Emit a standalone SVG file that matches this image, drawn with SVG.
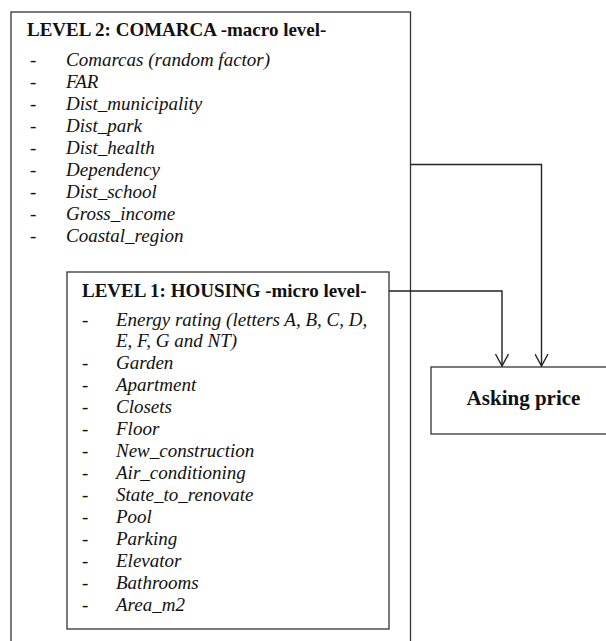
<svg xmlns="http://www.w3.org/2000/svg" width="606" height="641" viewBox="0 0 606 641">
<defs>
<style>
.box{fill:#fff;stroke:#333;stroke-width:1.3}
.ln{fill:none;stroke:#222;stroke-width:1.4}
.hd{font-family:"Liberation Serif","Times New Roman",serif;font-weight:bold;font-size:19px;fill:#111}
.ap{font-family:"Liberation Serif","Times New Roman",serif;font-weight:bold;font-size:21px;fill:#111}
.it{font-family:"Liberation Serif","Times New Roman",serif;font-style:italic;font-size:19px;fill:#111}
.ds{font-family:"Liberation Serif","Times New Roman",serif;font-size:19px;fill:#111}
</style>
<marker id="arr" viewBox="0 0 14 14" refX="13" refY="7" markerWidth="14" markerHeight="14" markerUnits="userSpaceOnUse" orient="auto">
<path d="M1,0.5 L13,7 L1,13.5" fill="none" stroke="#222" stroke-width="1.4"/>
</marker>
</defs>
<rect width="606" height="641" fill="#fff"/>
<g id="level2">
<rect class="box" x="11" y="12" width="399.5" height="640"/>
<text class="hd" x="27" y="36">LEVEL 2: COMARCA -macro level-</text>
<g class="ds">
<text x="30" y="66">-</text><text x="30" y="88">-</text><text x="30" y="110">-</text>
<text x="30" y="132">-</text><text x="30" y="154">-</text><text x="30" y="176">-</text>
<text x="30" y="198">-</text><text x="30" y="220">-</text><text x="30" y="242">-</text>
</g>
<g class="it">
<text x="66" y="66">Comarcas (random factor)</text>
<text x="66" y="88">FAR</text>
<text x="66" y="110">Dist_municipality</text>
<text x="66" y="132">Dist_park</text>
<text x="66" y="154">Dist_health</text>
<text x="66" y="176">Dependency</text>
<text x="66" y="198">Dist_school</text>
<text x="66" y="220">Gross_income</text>
<text x="66" y="242">Coastal_region</text>
</g>
</g>
<g id="level1">
<rect class="box" x="67" y="272" width="322" height="357"/>
<text class="hd" x="82" y="297">LEVEL 1: HOUSING -micro level-</text>
<g class="ds">
<text x="82" y="326">-</text><text x="82" y="369">-</text><text x="82" y="391">-</text>
<text x="82" y="413">-</text><text x="82" y="435">-</text><text x="82" y="457">-</text>
<text x="82" y="479">-</text><text x="82" y="501">-</text><text x="82" y="523">-</text>
<text x="82" y="545">-</text><text x="82" y="567">-</text><text x="82" y="589">-</text>
<text x="82" y="611">-</text>
</g>
<g class="it">
<text x="116" y="326">Energy rating (letters A, B, C, D,</text>
<text x="116" y="347">E, F, G and NT)</text>
<text x="116" y="369">Garden</text>
<text x="116" y="391">Apartment</text>
<text x="116" y="413">Closets</text>
<text x="116" y="435">Floor</text>
<text x="116" y="457">New_construction</text>
<text x="116" y="479">Air_conditioning</text>
<text x="116" y="501">State_to_renovate</text>
<text x="116" y="523">Pool</text>
<text x="116" y="545">Parking</text>
<text x="116" y="567">Elevator</text>
<text x="116" y="589">Bathrooms</text>
<text x="116" y="611">Area_m2</text>
</g>
</g>
<g id="asking">
<rect class="box" x="431" y="367" width="180" height="67"/>
<text class="ap" x="523.5" y="405" text-anchor="middle">Asking price</text>
</g>
<g id="connectors">
<path class="ln" d="M410.5,164.5 H541.5 V366" marker-end="url(#arr)"/>
<path class="ln" d="M389,291 H502 V366" marker-end="url(#arr)"/>
</g>
</svg>
